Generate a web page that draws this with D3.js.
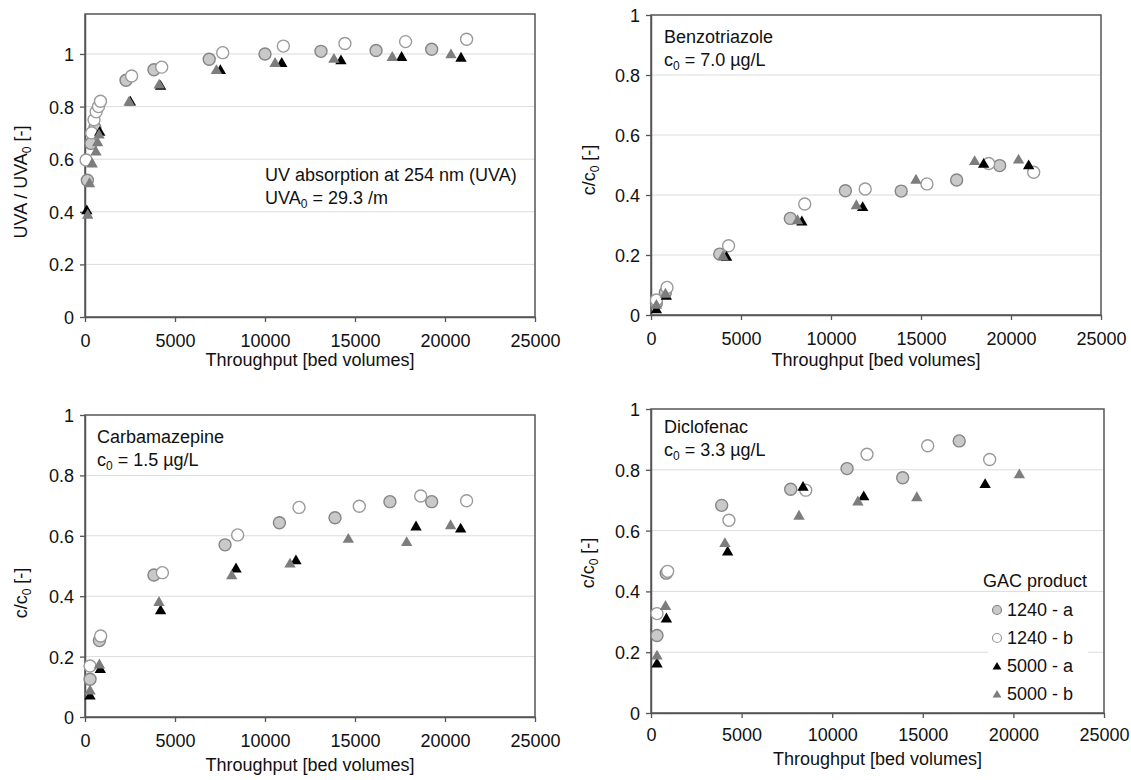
<!DOCTYPE html>
<html>
<head>
<meta charset="utf-8">
<script src="https://cdn.jsdelivr.net/npm/d3@7"></script>
<style>
  body { margin: 0; background: #fff; }
  svg { font-family: Arial, "Liberation Sans", sans-serif; }
</style>
</head>
<body>
<svg id="chart" width="1131" height="780"></svg>
<script>
// series: 1240 - a, 1240 - b, 5000 - a, 5000 - b  -> [throughput, c/c0]
var seriesNames = ["1240 - a", "1240 - b", "5000 - a", "5000 - b"];
var xTicks = [0, 5000, 10000, 15000, 20000, 25000];
var yTicks = [0, 0.2, 0.4, 0.6, 0.8, 1];

var uvaA = [[130,0.52],[330,0.66],[550,0.72],[2280,0.90],[3830,0.94],[6900,0.98],[10000,1.00],[13110,1.01],[16170,1.013],[19260,1.018]];
var uvaB = [[60,0.597],[370,0.70],[500,0.75],[620,0.78],[750,0.80],[860,0.82],[2590,0.916],[4260,0.95],[7650,1.005],[11020,1.03],[14440,1.04],[17810,1.047],[21200,1.056]];
var uvaC = [[100,0.407],[820,0.705],[2520,0.82],[4200,0.88],[7520,0.94],[10930,0.967],[14220,0.977],[17590,0.99],[20890,0.987]];
var uvaD = [[150,0.39],[250,0.51],[400,0.585],[610,0.63],[700,0.665],[780,0.695],[2450,0.82],[4120,0.885],[7300,0.94],[10560,0.967],[13830,0.983],[17070,0.99],[20330,1.0]];

var btzA = [[300,0.04],[800,0.075],[3820,0.203],[7740,0.322],[10800,0.414],[13900,0.413],[16980,0.45],[19370,0.498]];
var btzB = [[300,0.05],[890,0.092],[4310,0.231],[8540,0.37],[11900,0.42],[15330,0.437],[18760,0.505],[21260,0.476]];
var btzC = [[300,0.02],[850,0.065],[4200,0.195],[8380,0.313],[11760,0.361],[18480,0.505],[20980,0.5]];
var btzD = [[300,0.035],[800,0.072],[4000,0.197],[8140,0.317],[11410,0.367],[14720,0.452],[17980,0.514],[20420,0.519]];

var cbzA = [[280,0.125],[800,0.253],[3830,0.47],[7780,0.57],[10800,0.643],[13890,0.66],[16940,0.713],[19260,0.713]];
var cbzB = [[280,0.169],[870,0.268],[4300,0.478],[8480,0.603],[11890,0.694],[15240,0.698],[18650,0.732],[21200,0.716]];
var cbzC = [[280,0.072],[850,0.16],[4200,0.354],[8390,0.493],[11720,0.52],[18390,0.632],[20870,0.625]];
var cbzD = [[280,0.089],[800,0.175],[4110,0.382],[8150,0.47],[11390,0.509],[14630,0.591],[17870,0.58],[20310,0.636]];

var dcfA = [[330,0.255],[840,0.46],[3900,0.683],[7710,0.736],[10820,0.804],[13890,0.774],[17010,0.895]];
var dcfB = [[330,0.327],[920,0.466],[4300,0.634],[8540,0.733],[11920,0.851],[15270,0.879],[18690,0.834]];
var dcfC = [[330,0.164],[850,0.312],[4230,0.532],[8390,0.745],[11740,0.714],[18440,0.754]];
var dcfD = [[330,0.19],[800,0.353],[4080,0.56],[8170,0.65],[11420,0.697],[14670,0.711],[20330,0.786]];

var FRAME = "#555";
var GRID = "#dcdcdc";
var styles = [
    {shape: "circle", fill: "#c9c9c9", stroke: "#858585"},
    {shape: "circle", fill: "#fff", stroke: "#9a9a9a"},
    {shape: "triangle", fill: "#000", stroke: "none"},
    {shape: "triangle", fill: "#7d7d7d", stroke: "none"}
];

var svg = d3.select("#chart");

Panel = function(cfg){
    this.cfg = cfg;
    this.x = d3.scaleLinear().domain([0, 25000]).range([cfg.left, cfg.right]);
    this.y = d3.scaleLinear().domain([0, cfg.ymax]).range([cfg.bottom, cfg.top]);
    this.g = svg.append("g");
    this.draw();
};

Panel.prototype.draw = function(){
    var $this = this, cfg = this.cfg, g = this.g, x = this.x, y = this.y;

    // grid
    g.selectAll(".grid").data(yTicks.filter(function(t){ return t > 0 && y(t) > cfg.top + 1; }))
        .enter().append("line")
        .attr("x1", cfg.left).attr("x2", cfg.right)
        .attr("y1", function(d){ return y(d); }).attr("y2", function(d){ return y(d); })
        .style("stroke", GRID).style("stroke-width", 1);

    // frame
    g.append("rect")
        .attr("x", cfg.left).attr("y", cfg.top)
        .attr("width", cfg.right - cfg.left).attr("height", cfg.bottom - cfg.top)
        .style("fill", "none").style("stroke", FRAME).style("stroke-width", 1.5);

    // axes
    var xAxis = d3.axisBottom(x).tickValues(xTicks).tickSize(5).tickSizeOuter(0).tickPadding(cfg.xPad).tickFormat(d3.format("d"));
    var yAxis = d3.axisLeft(y).tickValues(yTicks).tickSize(5).tickSizeOuter(0).tickPadding(6).tickFormat(d3.format("~g"));
    var ax = g.append("g").attr("transform", "translate(0," + cfg.bottom + ")").call(xAxis);
    var ay = g.append("g").attr("transform", "translate(" + cfg.left + ",0)").call(yAxis);
    [ax, ay].forEach(function(a){
        a.select(".domain").style("stroke", FRAME).style("stroke-width", 1.5);
        a.selectAll(".tick line").style("stroke", FRAME).style("stroke-width", 1.3);
        a.selectAll(".tick text").style("font-size", "18px").style("fill", "#111")
            .attr("font-family", "Arial, 'Liberation Sans', sans-serif");
    });
    ay.selectAll(".tick text").attr("dy", "0.36em");

    // axis titles
    g.append("text")
        .attr("x", (cfg.left + cfg.right) / 2).attr("y", cfg.xTitleY)
        .attr("text-anchor", "middle").style("font-size", "18px").style("fill", "#111")
        .text("Throughput [bed volumes]");

    var yt = g.append("text")
        .attr("transform", "translate(" + cfg.yTitleX + "," + cfg.yTitleY + ") rotate(-90)")
        .attr("text-anchor", "middle").style("font-size", "18px").style("fill", "#111");
    cfg.yTitle.forEach(function(part){
        yt.append("tspan").text(part[0])
            .style("font-size", part[1] ? "12px" : "18px")
            .attr("dy", part[1] ? 4 : (part[2] ? -4 : 0));
    });

    // annotation
    cfg.notes.forEach(function(line, i){
        var t = g.append("text").attr("x", cfg.noteX).attr("y", cfg.noteY + i * 23)
            .style("font-size", "18px").style("fill", "#111");
        line.forEach(function(part){
            t.append("tspan").text(part[0])
                .style("font-size", part[1] ? "12px" : "18px")
                .attr("dy", part[1] ? 4 : (part[2] ? -4 : 0));
        });
    });

    // points
    cfg.series.forEach(function(data, s){
        $this.drawMarks(g, data, styles[s], 6, 56);
    });
};

Panel.prototype.drawMarks = function(g, data, st, r, size){
    var x = this.x, y = this.y;
    if(st.shape == "circle"){
        g.selectAll(null).data(data).enter().append("circle")
            .attr("cx", function(d){ return x(d[0]); })
            .attr("cy", function(d){ return y(d[1]); })
            .attr("r", r)
            .style("fill", st.fill).style("stroke", st.stroke).style("stroke-width", 1.4);
    }
    else{
        g.selectAll(null).data(data).enter().append("path")
            .attr("d", d3.symbol().type(d3.symbolTriangle).size(size))
            .attr("transform", function(d){ return "translate(" + x(d[0]) + "," + (y(d[1]) + 1) + ")"; })
            .style("fill", st.fill);
    }
};

new Panel({left: 85, right: 535, top: 14, bottom: 317, ymax: 1.152, xPad: 12, xTitleY: 366,
    yTitleX: 27, yTitleY: 182, yTitle: [["UVA / UVA"], ["0", true], [" [-]", false, true]],
    noteX: 265, noteY: 181,
    notes: [[["UV absorption at 254 nm (UVA)"]], [["UVA"], ["0", true], [" = 29.3 /m", false, true]]],
    series: [uvaA, uvaB, uvaC, uvaD]});

new Panel({left: 651, right: 1101, top: 15, bottom: 315, ymax: 1, xPad: 12, xTitleY: 366,
    yTitleX: 595, yTitleY: 170, yTitle: [["c/c"], ["0", true], [" [-]", false, true]],
    noteX: 664, noteY: 43,
    notes: [[["Benzotriazole"]], [["c"], ["0", true], [" = 7.0 µg/L", false, true]]],
    series: [btzA, btzB, btzC, btzD]});

new Panel({left: 85, right: 535, top: 415, bottom: 717, ymax: 1, xPad: 12, xTitleY: 771,
    yTitleX: 27, yTitleY: 593, yTitle: [["c/c"], ["0", true], [" [-]", false, true]],
    noteX: 97, noteY: 443,
    notes: [[["Carbamazepine"]], [["c"], ["0", true], [" = 1.5 µg/L", false, true]]],
    series: [cbzA, cbzB, cbzC, cbzD]});

var p4 = new Panel({left: 651, right: 1104, top: 409, bottom: 713, ymax: 1, xPad: 10, xTitleY: 765,
    yTitleX: 594, yTitleY: 563, yTitle: [["c/c"], ["0", true], [" [-]", false, true]],
    noteX: 664, noteY: 433,
    notes: [[["Diclofenac"]], [["c"], ["0", true], [" = 3.3 µg/L", false, true]]],
    series: [dcfA, dcfB, dcfC, dcfD]});

// legend
var lg = p4.g.append("g");
lg.append("rect").attr("x", 988).attr("y", 597).attr("width", 100).attr("height", 110).style("fill", "#fff");
lg.append("text").attr("x", 983).attr("y", 587).style("font-size", "18px").style("fill", "#111").text("GAC product");
seriesNames.forEach(function(name, i){
    var cy = 610 + i * 28;
    var st = styles[i];
    if(st.shape == "circle"){
        lg.append("circle").attr("cx", 997).attr("cy", cy).attr("r", 4.5)
            .style("fill", st.fill).style("stroke", st.stroke).style("stroke-width", 1.2);
    }
    else{
        lg.append("path").attr("d", d3.symbol().type(d3.symbolTriangle).size(34))
            .attr("transform", "translate(997," + (cy + 1) + ")").style("fill", st.fill);
    }
    lg.append("text").attr("x", 1007).attr("y", cy + 6).style("font-size", "18px").style("fill", "#111").text(name);
});
</script>
</body>
</html>
